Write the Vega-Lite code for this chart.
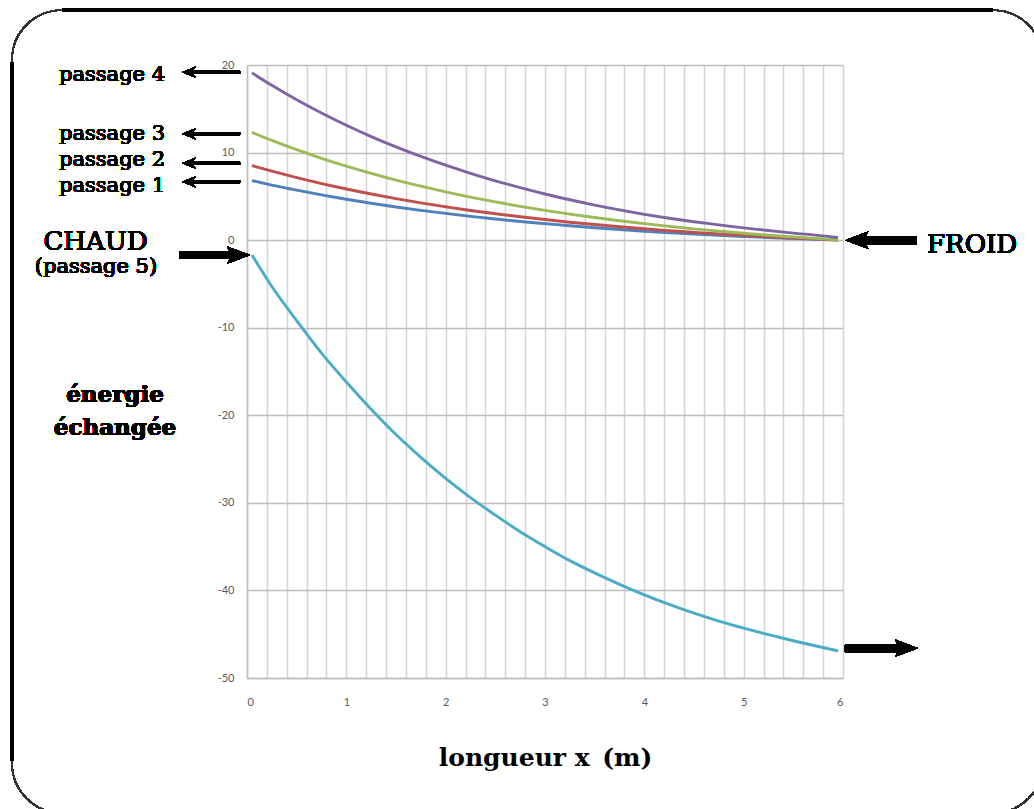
{
  "$schema": "https://vega.github.io/schema/vega-lite/v6.json",
  "width": 596,
  "height": 613,
  "autosize": {"type": "none"},
  "padding": {"left": 247, "top": 65, "right": 191, "bottom": 131},
  "background": "white",
  "config": {
    "view": {"stroke": null},
    "axis": {
      "domainColor": "#bfbfbf",
      "domainWidth": 1.5,
      "ticks": false,
      "tickSize": 0,
      "labelFont": "Lato",
      "labelFontSize": 11,
      "labelColor": "#595959",
      "labelOverlap": false,
      "labelBound": false
    },
    "text": {"font": "DejaVu Serif", "color": "black"}
  },
  "data": {
    "values": [
      {"x": 0.05, "energie": 6.80, "passage": "passage 1"},
      {"x": 0.25, "energie": 6.29, "passage": "passage 1"},
      {"x": 0.5, "energie": 5.71, "passage": "passage 1"},
      {"x": 0.75, "energie": 5.17, "passage": "passage 1"},
      {"x": 1.0, "energie": 4.67, "passage": "passage 1"},
      {"x": 1.25, "energie": 4.21, "passage": "passage 1"},
      {"x": 1.5, "energie": 3.79, "passage": "passage 1"},
      {"x": 1.75, "energie": 3.40, "passage": "passage 1"},
      {"x": 2.0, "energie": 3.05, "passage": "passage 1"},
      {"x": 2.25, "energie": 2.72, "passage": "passage 1"},
      {"x": 2.5, "energie": 2.41, "passage": "passage 1"},
      {"x": 2.75, "energie": 2.13, "passage": "passage 1"},
      {"x": 3.0, "energie": 1.88, "passage": "passage 1"},
      {"x": 3.25, "energie": 1.64, "passage": "passage 1"},
      {"x": 3.5, "energie": 1.42, "passage": "passage 1"},
      {"x": 3.75, "energie": 1.22, "passage": "passage 1"},
      {"x": 4.0, "energie": 1.02, "passage": "passage 1"},
      {"x": 4.25, "energie": 0.85, "passage": "passage 1"},
      {"x": 4.5, "energie": 0.69, "passage": "passage 1"},
      {"x": 4.75, "energie": 0.55, "passage": "passage 1"},
      {"x": 5.0, "energie": 0.42, "passage": "passage 1"},
      {"x": 5.25, "energie": 0.30, "passage": "passage 1"},
      {"x": 5.5, "energie": 0.19, "passage": "passage 1"},
      {"x": 5.75, "energie": 0.09, "passage": "passage 1"},
      {"x": 5.95, "energie": 0.02, "passage": "passage 1"},
      {"x": 0.05, "energie": 8.50, "passage": "passage 2"},
      {"x": 0.25, "energie": 7.87, "passage": "passage 2"},
      {"x": 0.5, "energie": 7.13, "passage": "passage 2"},
      {"x": 0.75, "energie": 6.46, "passage": "passage 2"},
      {"x": 1.0, "energie": 5.84, "passage": "passage 2"},
      {"x": 1.25, "energie": 5.27, "passage": "passage 2"},
      {"x": 1.5, "energie": 4.74, "passage": "passage 2"},
      {"x": 1.75, "energie": 4.25, "passage": "passage 2"},
      {"x": 2.0, "energie": 3.81, "passage": "passage 2"},
      {"x": 2.25, "energie": 3.39, "passage": "passage 2"},
      {"x": 2.5, "energie": 3.02, "passage": "passage 2"},
      {"x": 2.75, "energie": 2.67, "passage": "passage 2"},
      {"x": 3.0, "energie": 2.35, "passage": "passage 2"},
      {"x": 3.25, "energie": 2.05, "passage": "passage 2"},
      {"x": 3.5, "energie": 1.78, "passage": "passage 2"},
      {"x": 3.75, "energie": 1.53, "passage": "passage 2"},
      {"x": 4.0, "energie": 1.30, "passage": "passage 2"},
      {"x": 4.25, "energie": 1.08, "passage": "passage 2"},
      {"x": 4.5, "energie": 0.89, "passage": "passage 2"},
      {"x": 4.75, "energie": 0.71, "passage": "passage 2"},
      {"x": 5.0, "energie": 0.54, "passage": "passage 2"},
      {"x": 5.25, "energie": 0.39, "passage": "passage 2"},
      {"x": 5.5, "energie": 0.25, "passage": "passage 2"},
      {"x": 5.75, "energie": 0.12, "passage": "passage 2"},
      {"x": 5.95, "energie": 0.02, "passage": "passage 2"},
      {"x": 0.05, "energie": 12.30, "passage": "passage 3"},
      {"x": 0.25, "energie": 11.39, "passage": "passage 3"},
      {"x": 0.5, "energie": 10.33, "passage": "passage 3"},
      {"x": 0.75, "energie": 9.35, "passage": "passage 3"},
      {"x": 1.0, "energie": 8.45, "passage": "passage 3"},
      {"x": 1.25, "energie": 7.62, "passage": "passage 3"},
      {"x": 1.5, "energie": 6.86, "passage": "passage 3"},
      {"x": 1.75, "energie": 6.16, "passage": "passage 3"},
      {"x": 2.0, "energie": 5.51, "passage": "passage 3"},
      {"x": 2.25, "energie": 4.91, "passage": "passage 3"},
      {"x": 2.5, "energie": 4.37, "passage": "passage 3"},
      {"x": 2.75, "energie": 3.86, "passage": "passage 3"},
      {"x": 3.0, "energie": 3.40, "passage": "passage 3"},
      {"x": 3.25, "energie": 2.97, "passage": "passage 3"},
      {"x": 3.5, "energie": 2.58, "passage": "passage 3"},
      {"x": 3.75, "energie": 2.21, "passage": "passage 3"},
      {"x": 4.0, "energie": 1.88, "passage": "passage 3"},
      {"x": 4.25, "energie": 1.57, "passage": "passage 3"},
      {"x": 4.5, "energie": 1.29, "passage": "passage 3"},
      {"x": 4.75, "energie": 1.03, "passage": "passage 3"},
      {"x": 5.0, "energie": 0.78, "passage": "passage 3"},
      {"x": 5.25, "energie": 0.56, "passage": "passage 3"},
      {"x": 5.5, "energie": 0.36, "passage": "passage 3"},
      {"x": 5.75, "energie": 0.17, "passage": "passage 3"},
      {"x": 5.95, "energie": 0.04, "passage": "passage 3"},
      {"x": 0.05, "energie": 19.10, "passage": "passage 4"},
      {"x": 0.25, "energie": 17.68, "passage": "passage 4"},
      {"x": 0.5, "energie": 16.03, "passage": "passage 4"},
      {"x": 0.75, "energie": 14.52, "passage": "passage 4"},
      {"x": 1.0, "energie": 13.12, "passage": "passage 4"},
      {"x": 1.25, "energie": 11.83, "passage": "passage 4"},
      {"x": 1.5, "energie": 10.65, "passage": "passage 4"},
      {"x": 1.75, "energie": 9.56, "passage": "passage 4"},
      {"x": 2.0, "energie": 8.56, "passage": "passage 4"},
      {"x": 2.25, "energie": 7.63, "passage": "passage 4"},
      {"x": 2.5, "energie": 6.78, "passage": "passage 4"},
      {"x": 2.75, "energie": 6.00, "passage": "passage 4"},
      {"x": 3.0, "energie": 5.27, "passage": "passage 4"},
      {"x": 3.25, "energie": 4.61, "passage": "passage 4"},
      {"x": 3.5, "energie": 4.00, "passage": "passage 4"},
      {"x": 3.75, "energie": 3.45, "passage": "passage 4"},
      {"x": 4.0, "energie": 2.95, "passage": "passage 4"},
      {"x": 4.25, "energie": 2.50, "passage": "passage 4"},
      {"x": 4.5, "energie": 2.10, "passage": "passage 4"},
      {"x": 4.75, "energie": 1.75, "passage": "passage 4"},
      {"x": 5.0, "energie": 1.40, "passage": "passage 4"},
      {"x": 5.25, "energie": 1.10, "passage": "passage 4"},
      {"x": 5.5, "energie": 0.80, "passage": "passage 4"},
      {"x": 5.75, "energie": 0.55, "passage": "passage 4"},
      {"x": 5.95, "energie": 0.30, "passage": "passage 4"},
      {"x": 0.05, "energie": -1.7, "passage": "passage 5"},
      {"x": 0.25, "energie": -5.3, "passage": "passage 5"},
      {"x": 0.5, "energie": -9.2, "passage": "passage 5"},
      {"x": 0.75, "energie": -12.9, "passage": "passage 5"},
      {"x": 1.0, "energie": -16.2, "passage": "passage 5"},
      {"x": 1.25, "energie": -19.3, "passage": "passage 5"},
      {"x": 1.5, "energie": -22.2, "passage": "passage 5"},
      {"x": 1.75, "energie": -24.8, "passage": "passage 5"},
      {"x": 2.0, "energie": -27.2, "passage": "passage 5"},
      {"x": 2.25, "energie": -29.4, "passage": "passage 5"},
      {"x": 2.5, "energie": -31.4, "passage": "passage 5"},
      {"x": 2.75, "energie": -33.3, "passage": "passage 5"},
      {"x": 3.0, "energie": -35.0, "passage": "passage 5"},
      {"x": 3.25, "energie": -36.6, "passage": "passage 5"},
      {"x": 3.5, "energie": -38.0, "passage": "passage 5"},
      {"x": 3.75, "energie": -39.3, "passage": "passage 5"},
      {"x": 4.0, "energie": -40.5, "passage": "passage 5"},
      {"x": 4.25, "energie": -41.6, "passage": "passage 5"},
      {"x": 4.5, "energie": -42.6, "passage": "passage 5"},
      {"x": 4.75, "energie": -43.5, "passage": "passage 5"},
      {"x": 5.0, "energie": -44.3, "passage": "passage 5"},
      {"x": 5.25, "energie": -45.05, "passage": "passage 5"},
      {"x": 5.5, "energie": -45.75, "passage": "passage 5"},
      {"x": 5.75, "energie": -46.4, "passage": "passage 5"},
      {"x": 5.95, "energie": -46.9, "passage": "passage 5"}
    ]
  },
  "layer": [
    {
      "mark": {"type": "line", "strokeWidth": 2.9, "interpolate": "monotone"},
      "encoding": {
        "x": {
          "field": "x", "type": "quantitative",
          "scale": {"domain": [0, 6], "nice": false, "zero": false},
          "axis": {
            "values": [0, 0.2, 0.4, 0.6, 0.8, 1, 1.2, 1.4, 1.6, 1.8, 2, 2.2, 2.4, 2.6, 2.8, 3, 3.2, 3.4, 3.6, 3.8, 4, 4.2, 4.4, 4.6, 4.8, 5, 5.2, 5.4, 5.6, 5.8, 6],
            "tickCount": 100,
            "labelExpr": "datum.value % 1 === 0 ? format(datum.value, 'd') : ''",
            "labelPadding": 18,
            "grid": true,
            "gridColor": "#d4d4d4",
            "gridWidth": 1.5,
            "title": "longueur x\u2002(m)",
            "titleFont": "DejaVu Serif",
            "titleFontWeight": "bold",
            "titleFontSize": 25,
            "titleColor": "black",
            "titlePadding": 38
          }
        },
        "y": {
          "field": "energie", "type": "quantitative",
          "scale": {"domain": [-50, 20], "nice": false, "zero": false},
          "axis": {
            "values": [-50, -40, -30, -20, -10, 0, 10, 20],
            "tickCount": 100,
            "labelExpr": "datum.value < 0 ? '-' + format(-datum.value, 'd') : format(datum.value, 'd')",
            "labelPadding": 13,
            "grid": true,
            "gridColor": "#bdbdbd",
            "gridWidth": 1.5,
            "title": null
          }
        },
        "color": {
          "field": "passage", "type": "nominal",
          "scale": {
            "domain": ["passage 1", "passage 2", "passage 3", "passage 4", "passage 5"],
            "range": ["#4F81BD", "#C0504D", "#9BBB59", "#8064A2", "#4BACC6"]
          },
          "legend": null
        }
      }
    },
    {
      "mark": {"type": "rect", "filled": false, "stroke": "#333333", "strokeWidth": 1.3, "cornerRadius": 50},
      "encoding": {
        "x": {"datum": -2.366, "type": "quantitative"},
        "x2": {"datum": 8.014},
        "y": {"datum": 26.26, "type": "quantitative"},
        "y2": {"datum": -65.43}
      }
    },
    {
      "mark": {"type": "rule", "color": "black", "strokeWidth": 3},
      "encoding": {
        "x": {"datum": -1.862, "type": "quantitative"},
        "x2": {"datum": 7.51},
        "y": {"datum": 26.26, "type": "quantitative"}
      }
    },
    {
      "mark": {"type": "rule", "color": "black", "strokeWidth": 3},
      "encoding": {
        "x": {"datum": -2.366, "type": "quantitative"},
        "y": {"datum": 20.33, "type": "quantitative"},
        "y2": {"datum": -59.4}
      }
    },
    {
      "mark": {"type": "rule", "color": "black", "strokeWidth": 3.5},
      "encoding": {"x": {"datum": -0.574, "type": "quantitative"}, "x2": {"datum": -0.07}, "y": {"datum": 19.18, "type": "quantitative"}}
    },
    {
      "mark": {"type": "rule", "color": "black", "strokeWidth": 3.5},
      "encoding": {"x": {"datum": -0.574, "type": "quantitative"}, "x2": {"datum": -0.07}, "y": {"datum": 12.14, "type": "quantitative"}}
    },
    {
      "mark": {"type": "rule", "color": "black", "strokeWidth": 3.5},
      "encoding": {"x": {"datum": -0.574, "type": "quantitative"}, "x2": {"datum": -0.07}, "y": {"datum": 8.79, "type": "quantitative"}}
    },
    {
      "mark": {"type": "rule", "color": "black", "strokeWidth": 3.5},
      "encoding": {"x": {"datum": -0.574, "type": "quantitative"}, "x2": {"datum": -0.07}, "y": {"datum": 6.66, "type": "quantitative"}}
    },
    {
      "mark": {"type": "point", "shape": "M-1,0L1,-0.8L0.35,0L1,0.8Z", "size": 196, "filled": true, "color": "black", "opacity": 1},
      "encoding": {"x": {"datum": -0.584, "type": "quantitative"}, "y": {"datum": 19.18, "type": "quantitative"}}
    },
    {
      "mark": {"type": "point", "shape": "M-1,0L1,-0.8L0.35,0L1,0.8Z", "size": 196, "filled": true, "color": "black", "opacity": 1},
      "encoding": {"x": {"datum": -0.584, "type": "quantitative"}, "y": {"datum": 12.14, "type": "quantitative"}}
    },
    {
      "mark": {"type": "point", "shape": "M-1,0L1,-0.8L0.35,0L1,0.8Z", "size": 196, "filled": true, "color": "black", "opacity": 1},
      "encoding": {"x": {"datum": -0.584, "type": "quantitative"}, "y": {"datum": 8.79, "type": "quantitative"}}
    },
    {
      "mark": {"type": "point", "shape": "M-1,0L1,-0.8L0.35,0L1,0.8Z", "size": 196, "filled": true, "color": "black", "opacity": 1},
      "encoding": {"x": {"datum": -0.584, "type": "quantitative"}, "y": {"datum": 6.66, "type": "quantitative"}}
    },
    {
      "mark": {"type": "rule", "color": "black", "strokeWidth": 8},
      "encoding": {"x": {"datum": -0.675, "type": "quantitative"}, "x2": {"datum": -0.14}, "y": {"datum": -1.71, "type": "quantitative"}}
    },
    {
      "mark": {"type": "point", "shape": "M1,0L-1,-0.75L-0.6,0L-1,0.75Z", "size": 529, "filled": true, "color": "black", "opacity": 1},
      "encoding": {"x": {"datum": -0.0856, "type": "quantitative"}, "y": {"datum": -1.71, "type": "quantitative"}}
    },
    {
      "mark": {"type": "rule", "color": "black", "strokeWidth": 8},
      "encoding": {"x": {"datum": 6.19, "type": "quantitative"}, "x2": {"datum": 6.745}, "y": {"datum": 0, "type": "quantitative"}}
    },
    {
      "mark": {"type": "point", "shape": "M-1,0L1,-0.75L0.6,0L1,0.75Z", "size": 529, "filled": true, "color": "black", "opacity": 1},
      "encoding": {"x": {"datum": 6.138, "type": "quantitative"}, "y": {"datum": 0, "type": "quantitative"}}
    },
    {
      "mark": {"type": "rule", "color": "black", "strokeWidth": 8},
      "encoding": {"x": {"datum": 6.02, "type": "quantitative"}, "x2": {"datum": 6.58}, "y": {"datum": -46.59, "type": "quantitative"}}
    },
    {
      "mark": {"type": "point", "shape": "M1,0L-1,-0.75L-0.6,0L-1,0.75Z", "size": 529, "filled": true, "color": "black", "opacity": 1},
      "encoding": {"x": {"datum": 6.639, "type": "quantitative"}, "y": {"datum": -46.59, "type": "quantitative"}}
    },
    {
      "mark": {"type": "text", "text": "passage 4", "fontSize": 21, "align": "right", "baseline": "alphabetic"},
      "encoding": {"x": {"datum": -0.825, "type": "quantitative"}, "y": {"datum": 18.16, "type": "quantitative"}}
    },
    {
      "mark": {"type": "text", "text": "passage 3", "fontSize": 21, "align": "right", "baseline": "alphabetic"},
      "encoding": {"x": {"datum": -0.825, "type": "quantitative"}, "y": {"datum": 11.42, "type": "quantitative"}}
    },
    {
      "mark": {"type": "text", "text": "passage 2", "fontSize": 21, "align": "right", "baseline": "alphabetic"},
      "encoding": {"x": {"datum": -0.825, "type": "quantitative"}, "y": {"datum": 8.45, "type": "quantitative"}}
    },
    {
      "mark": {"type": "text", "text": "passage 1", "fontSize": 21, "align": "right", "baseline": "alphabetic"},
      "encoding": {"x": {"datum": -0.825, "type": "quantitative"}, "y": {"datum": 5.48, "type": "quantitative"}}
    },
    {
      "mark": {"type": "text", "text": "CHAUD", "fontSize": 26, "align": "center", "baseline": "alphabetic"},
      "encoding": {"x": {"datum": -1.525, "type": "quantitative"}, "y": {"datum": -1.14, "type": "quantitative"}}
    },
    {
      "mark": {"type": "text", "text": "(passage 5)", "fontSize": 21, "align": "center", "baseline": "alphabetic"},
      "encoding": {"x": {"datum": -1.52, "type": "quantitative"}, "y": {"datum": -3.77, "type": "quantitative"}}
    },
    {
      "mark": {"type": "text", "text": "FROID", "fontSize": 26, "align": "left", "baseline": "alphabetic"},
      "encoding": {"x": {"datum": 6.846, "type": "quantitative"}, "y": {"datum": -1.48, "type": "quantitative"}}
    },
    {
      "mark": {"type": "text", "text": "énergie", "fontSize": 23, "fontWeight": "bold", "align": "center", "baseline": "alphabetic"},
      "encoding": {"x": {"datum": -1.329, "type": "quantitative"}, "y": {"datum": -18.47, "type": "quantitative"}}
    },
    {
      "mark": {"type": "text", "text": "échangée", "fontSize": 23, "fontWeight": "bold", "align": "center", "baseline": "alphabetic"},
      "encoding": {"x": {"datum": -1.329, "type": "quantitative"}, "y": {"datum": -22.27, "type": "quantitative"}}
    }
  ]
}
